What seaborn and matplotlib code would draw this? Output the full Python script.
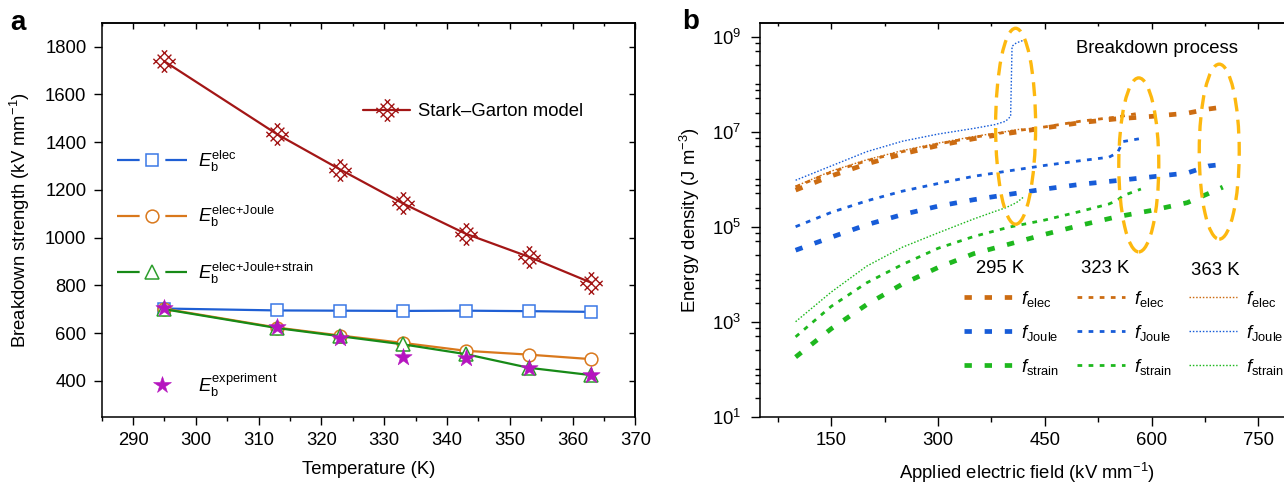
import numpy as np
import pandas as pd
import matplotlib
matplotlib.use("Agg")
import matplotlib.pyplot as plt
import seaborn as sns
from matplotlib.lines import Line2D
from matplotlib.legend import Legend
from matplotlib.path import Path
from matplotlib.patches import Ellipse
from matplotlib.ticker import FixedLocator, FuncFormatter, MultipleLocator, NullFormatter

# ---------------- Panel a data ----------------
temperature = [295, 313, 323, 333, 343, 353, 363]
stark_garton = [1738, 1432, 1285, 1143, 1016, 920, 811]
eb_elec = [703, 695, 694, 693, 694, 692, 689]
eb_elec_joule = [702, 623, 590, 559, 526, 510, 491]
eb_elec_joule_strain = [700, 621, 587, 553, 512, 455, 424]
eb_experiment = [705, 627, 581, 502, 496, 453, 425]

# ---------------- Panel b data ----------------
field_295 = [100, 150, 200, 250, 300, 350, 400, 450, 500, 550, 600, 650, 680, 700]
f_elec_295 = [5.9e5, 1.17e6, 2.1e6, 3.4e6, 5.1e6, 7.1e6, 9.3e6, 1.2e7, 1.55e7, 1.86e7, 2.1e7, 2.45e7, 3.0e7, 3.3e7]
f_joule_295 = [3.2e4, 6.0e4, 1.1e5, 1.8e5, 2.7e5, 3.7e5, 4.8e5, 6.2e5, 7.8e5, 9.3e5, 1.12e6, 1.35e6, 1.9e6, 2.05e6]
f_strain_295 = [1.8e2, 7.1e2, 2.3e3, 6.2e3, 1.38e4, 2.7e4, 4.3e4, 6.9e4, 1.07e5, 1.6e5, 2.2e5, 3.2e5, 5.0e5, 6.8e5]

field_323 = [100, 150, 200, 250, 300, 350, 400, 450, 500, 540, 552, 560, 585]
f_elec_323 = [6.9e5, 1.41e6, 2.45e6, 3.8e6, 5.5e6, 7.6e6, 1.0e7, 1.26e7, 1.66e7, 1.95e7, 2.04e7, 2.14e7, 2.5e7]
f_joule_323 = [1.0e5, 2.0e5, 3.5e5, 5.6e5, 8.1e5, 1.15e6, 1.5e6, 1.95e6, 2.45e6, 2.9e6, 3.6e6, 6.2e6, 7.2e6]
f_strain_323 = [4.8e2, 2.1e3, 6.6e3, 1.6e4, 3.5e4, 6.2e4, 9.8e4, 1.38e5, 2.1e5, 3.0e5, 3.6e5, 4.5e5, 6.2e5]

field_363 = [100, 150, 200, 250, 300, 350, 380, 395, 402, 404, 410, 421]
f_elec_363 = [7.1e5, 1.48e6, 2.57e6, 4.0e6, 5.75e6, 7.9e6, 9.3e6, 1.0e7, 1.05e7, 1.07e7, 1.1e7, 1.15e7]
f_joule_363 = [9.5e5, 1.9e6, 3.8e6, 6.3e6, 8.9e6, 1.17e7, 1.41e7, 1.66e7, 2.1e7, 6.3e8, 7.4e8, 8.5e8]
f_strain_363 = [1.0e3, 4.2e3, 1.48e4, 3.7e4, 7.4e4, 1.45e5, 2.1e5, 2.5e5, 2.8e5, 2.9e5, 3.2e5, 4.3e5]

breakdown_field = [409, 582, 695]
breakdown_energy = [1.3e7, 2.0e6, 3.8e6]
temperature_labels = ["295 K", "323 K", "363 K"]

# ---------------- style ----------------
sns.set_style("ticks")
FS = 13.3
plt.rcParams.update({
    "font.family": ["Liberation Sans", "DejaVu Sans"],
    "mathtext.fontset": "custom",
    "mathtext.rm": "Liberation Sans",
    "mathtext.it": "Liberation Sans:italic",
    "mathtext.bf": "Liberation Sans:bold",
    "mathtext.sf": "Liberation Sans",
    "font.size": FS,
    "lines.scale_dashes": False,
    "lines.dash_capstyle": "butt",
    "axes.linewidth": 1.1,
    "axes.edgecolor": "black",
    "xtick.color": "black",
    "ytick.color": "black",
    "text.color": "black",
    "axes.labelcolor": "black",
})

C_SG = "#a31616"
C_BLUE = "#1f5fd4"
C_BLUE_M = "#3a78e6"
C_ORANGE = "#d9781c"
C_GREEN = "#178a17"
C_GREEN_M = "#2c9e2c"
C_MAG = "#b515bf"

C_O = "#cc6c12"
C_B = "#175cd8"
C_G = "#1eb81e"
C_ELL = "#fdb80f"

fig = plt.figure(figsize=(12.84, 4.83), dpi=100)
W, H = 1284.0, 483.0
axA = fig.add_axes([101.7 / W, 1 - 416.7 / H, 533.6 / W, 394 / H])
axB = fig.add_axes([760 / W, 1 - 416.7 / H, 534 / W, 394 / H])

# custom "crossed diamond" marker: diamond with inner X, lines extending past corners
a = 0.55
L = 0.9
segs = []
for off in (-a, 0.0, a):
    segs.append(((off, -L), (off, L)))
    segs.append(((-L, off), (L, off)))
verts, codes = [], []
s2 = np.sqrt(2)
for (x0, y0), (x1, y1) in segs:
    verts.append(((x0 - y0) / s2, (x0 + y0) / s2)); codes.append(Path.MOVETO)
    verts.append(((x1 - y1) / s2, (x1 + y1) / s2)); codes.append(Path.LINETO)
sg_marker = Path(verts, codes)

# ---------------- Panel a ----------------
dfA = pd.DataFrame({
    "T": temperature, "sg": stark_garton, "elec": eb_elec,
    "joule": eb_elec_joule, "strain": eb_elec_joule_strain, "exp": eb_experiment,
})
sns.lineplot(data=dfA, x="T", y="sg", ax=axA, color=C_SG, linewidth=1.6, marker=sg_marker,
             markersize=16, markerfacecolor="none", markeredgecolor=C_SG, markeredgewidth=1.0,
             estimator=None, zorder=3)
sns.lineplot(data=dfA, x="T", y="elec", ax=axA, color=C_BLUE, linewidth=1.6, marker="s",
             markersize=8.6, markerfacecolor="white", markeredgecolor=C_BLUE_M, markeredgewidth=1.1,
             estimator=None, zorder=3)
sns.lineplot(data=dfA, x="T", y="joule", ax=axA, color=C_ORANGE, linewidth=1.6, marker="o",
             markersize=9.2, markerfacecolor="white", markeredgecolor=C_ORANGE, markeredgewidth=1.1,
             estimator=None, zorder=3)
sns.lineplot(data=dfA, x="T", y="strain", ax=axA, color=C_GREEN, linewidth=1.6, marker="^",
             markersize=9.6, markerfacecolor="white", markeredgecolor=C_GREEN_M, markeredgewidth=1.1,
             estimator=None, zorder=4)
sns.scatterplot(data=dfA, x="T", y="exp", ax=axA, marker="*", s=170, color=C_MAG,
                edgecolor=C_MAG, linewidth=0.4, zorder=5)

axA.set_xlim(285, 370)
axA.set_ylim(250, 1900)
axA.set_xticks(list(range(290, 371, 10)))
axA.xaxis.set_minor_locator(MultipleLocator(5))
axA.set_yticks(list(range(400, 1801, 200)))
axA.tick_params(which="major", direction="out", length=6, width=1.0, labelsize=FS, top=False, right=False)
axA.tick_params(axis="y", which="major", pad=5)
axA.tick_params(axis="x", which="major", pad=5)
axA.tick_params(which="minor", direction="out", length=3.2, width=1.0, top=False, right=False)
axA.tick_params(axis="y", which="minor", left=False)
axA.set_xlabel("Temperature (K)", fontsize=FS)
axA.set_ylabel("Breakdown strength (kV mm$^{-1}$)", fontsize=FS)
axA.xaxis.set_label_coords(0.5, -0.112)
axA.yaxis.set_label_coords(-0.1306, 0.5)

secx = axA.secondary_xaxis("top")
secx.set_xticks(list(range(290, 371, 10)))
secx.xaxis.set_minor_locator(MultipleLocator(5))
secx.tick_params(which="major", direction="in", length=4, width=1.0, labeltop=False)
secx.tick_params(which="minor", direction="in", length=2.5, width=1.0)
secx.spines["top"].set_linewidth(1.1)
secy = axA.secondary_yaxis("right")
secy.set_yticks(list(range(400, 1801, 200)))
secy.tick_params(which="major", direction="in", length=4, width=1.0, labelright=False)
secy.spines["right"].set_linewidth(1.1)
for sp in axA.spines.values():
    sp.set_linewidth(1.1)


def add_leg(ax, handles, labels, x, y, hl, pad, spacing=0.5):
    leg = Legend(ax, handles, labels, loc="center left", bbox_to_anchor=(x, y),
                 bbox_transform=ax.transAxes, frameon=False, borderpad=0, borderaxespad=0,
                 handlelength=hl, handletextpad=pad, labelspacing=spacing, fontsize=FS)
    ax.add_artist(leg)
    return leg


h_sg = Line2D([], [], color=C_SG, linewidth=1.6, marker=sg_marker, markersize=16,
              markerfacecolor="none", markeredgecolor=C_SG, markeredgewidth=1.0)
add_leg(axA, [h_sg], ["Stark\u2013Garton model"], 0.4897, 0.774, 2.55, 0.45)

dash_a = (0, (16.3, 18.5))
h_el = Line2D([], [], color=C_BLUE, linewidth=1.6, linestyle=dash_a, marker="s", markersize=8.6,
              markerfacecolor="white", markeredgecolor=C_BLUE_M, markeredgewidth=1.1)
h_jo = Line2D([], [], color=C_ORANGE, linewidth=1.6, linestyle=dash_a, marker="o", markersize=9.2,
              markerfacecolor="white", markeredgecolor=C_ORANGE, markeredgewidth=1.1)
h_st = Line2D([], [], color=C_GREEN, linewidth=1.6, linestyle=dash_a, marker="^", markersize=9.6,
              markerfacecolor="white", markeredgecolor=C_GREEN_M, markeredgewidth=1.1)
h_ex = Line2D([], [], linestyle="none", marker="*", markersize=13, color=C_MAG,
              markeredgecolor=C_MAG, markeredgewidth=0.4)
add_leg(axA, [h_el], [r"$E_\mathrm{b}^\mathrm{elec}$"], 0.0281, 0.649, 3.82, 0.6)
add_leg(axA, [h_jo], [r"$E_\mathrm{b}^\mathrm{elec{+}Joule}$"], 0.0281, 0.507, 3.82, 0.6)
add_leg(axA, [h_st], [r"$E_\mathrm{b}^\mathrm{elec{+}Joule{+}strain}$"], 0.0281, 0.3647, 3.82, 0.6)
add_leg(axA, [h_ex], [r"$E_\mathrm{b}^\mathrm{experiment}$"], 0.0666, 0.0805, 2.7, 0.6)

# ---------------- Panel b ----------------
LW_THICK, LW_MED, LW_THIN = 3.4, 2.0, 1.0
DASH_THICK = (0, (5.3, 9.2))
DASH_MED = (0, (3.4, 4.6))
DASH_THIN = (0, (1.1, 1.3))

series = [
    (field_295, f_elec_295, C_O, LW_THICK, DASH_THICK),
    (field_295, f_joule_295, C_B, LW_THICK, DASH_THICK),
    (field_295, f_strain_295, C_G, LW_THICK, DASH_THICK),
    (field_323, f_elec_323, C_O, LW_MED, DASH_MED),
    (field_323, f_joule_323, C_B, LW_MED, DASH_MED),
    (field_323, f_strain_323, C_G, LW_MED, DASH_MED),
    (field_363, f_elec_363, C_O, LW_THIN, DASH_THIN),
    (field_363, f_joule_363, C_B, LW_THIN, DASH_THIN),
    (field_363, f_strain_363, C_G, LW_THIN, DASH_THIN),
]
for xs, ys, col, lw, ls in series:
    sns.lineplot(x=xs, y=ys, ax=axB, color=col, linewidth=lw, linestyle=ls,
                 estimator=None, sort=False, zorder=3)

axB.set_yscale("log")
axB.set_xlim(50, 800)
axB.set_ylim(10, 1.97e9)
axB.set_xticks([150, 300, 450, 600, 750])
axB.xaxis.set_minor_locator(MultipleLocator(75))
major_y = [10.0 ** k for k in (1, 3, 5, 7, 9)]
minor_y = []
for k in range(1, 10):
    for m in (2.5, 5.0, 7.5):
        minor_y.append(m * 10.0 ** k)
    if k % 2 == 0:
        minor_y.append(10.0 ** k)
axB.yaxis.set_major_locator(FixedLocator(major_y))
axB.yaxis.set_minor_locator(FixedLocator([v for v in minor_y if v < 1.97e9]))
axB.yaxis.set_major_formatter(FuncFormatter(lambda v, p: r"$10^{%d}$" % round(np.log10(v))))
axB.yaxis.set_minor_formatter(NullFormatter())
axB.tick_params(which="major", direction="out", length=6.3, width=1.0, labelsize=FS, top=False, right=False)
axB.tick_params(axis="y", which="major", pad=7)
axB.tick_params(axis="x", which="major", pad=5)
axB.tick_params(which="minor", direction="out", length=3.4, width=1.0, top=False, right=False)
axB.set_xlabel("Applied electric field (kV mm$^{-1}$)", fontsize=FS)
axB.set_ylabel("Energy density (J m$^{-3}$)", fontsize=FS)
axB.xaxis.set_label_coords(0.5, -0.112)
axB.yaxis.set_label_coords(-0.108, 0.5)
for sp in axB.spines.values():
    sp.set_linewidth(1.1)

secxb = axB.secondary_xaxis("top")
secxb.set_xticks([150, 300, 450, 600, 750])
secxb.xaxis.set_minor_locator(MultipleLocator(75))
secxb.tick_params(which="major", direction="in", length=4, width=1.0, labeltop=False)
secxb.tick_params(which="minor", direction="in", length=2.5, width=1.0)
secxb.spines["top"].set_linewidth(1.1)

# breakdown ellipses
fig.canvas.draw()
ell_w = 40 / 534.0
ell_h = [196 / 394.0, 174 / 394.0, 175 / 394.0]
for bx, by, eh in zip(breakdown_field, breakdown_energy, ell_h):
    cx, cy = axB.transAxes.inverted().transform(axB.transData.transform((bx, by)))
    axB.add_patch(Ellipse((cx, cy), ell_w, eh, transform=axB.transAxes, fill=False,
                          edgecolor=C_ELL, linewidth=2.4, linestyle=(0, (10, 6)), zorder=6))

axB.text(0.591, 0.935, "Breakdown process", transform=axB.transAxes, fontsize=FS,
         ha="left", va="center")

# legends in panel b: one column per temperature
col_x = [0.382, 0.593, 0.8034]
title_x = [0.404, 0.6006, 0.8066]
title_y = [0.3774, 0.3774, 0.372]
styles = [(LW_THICK, DASH_THICK), (LW_MED, DASH_MED), (LW_THIN, DASH_THIN)]
labels_b = [r"$f_\mathrm{elec}$", r"$f_\mathrm{Joule}$", r"$f_\mathrm{strain}$"]
for j in range(3):
    lw, ls = styles[j]
    hs = [Line2D([], [], color=c, linewidth=lw, linestyle=ls) for c in (C_O, C_B, C_G)]
    add_leg(axB, hs, labels_b, col_x[j], 0.2132, 2.6, 0.5, spacing=0.75)
    axB.text(title_x[j], title_y[j], temperature_labels[j], transform=axB.transAxes,
             fontsize=FS, ha="left", va="center")

fig.text(10 / W, 1 - 30 / H, "a", fontsize=20, fontweight="bold", ha="left", va="baseline")
fig.text(682 / W, 1 - 29.3 / H, "b", fontsize=20, fontweight="bold", ha="left", va="baseline")

fig.savefig("out.png", dpi=100)
